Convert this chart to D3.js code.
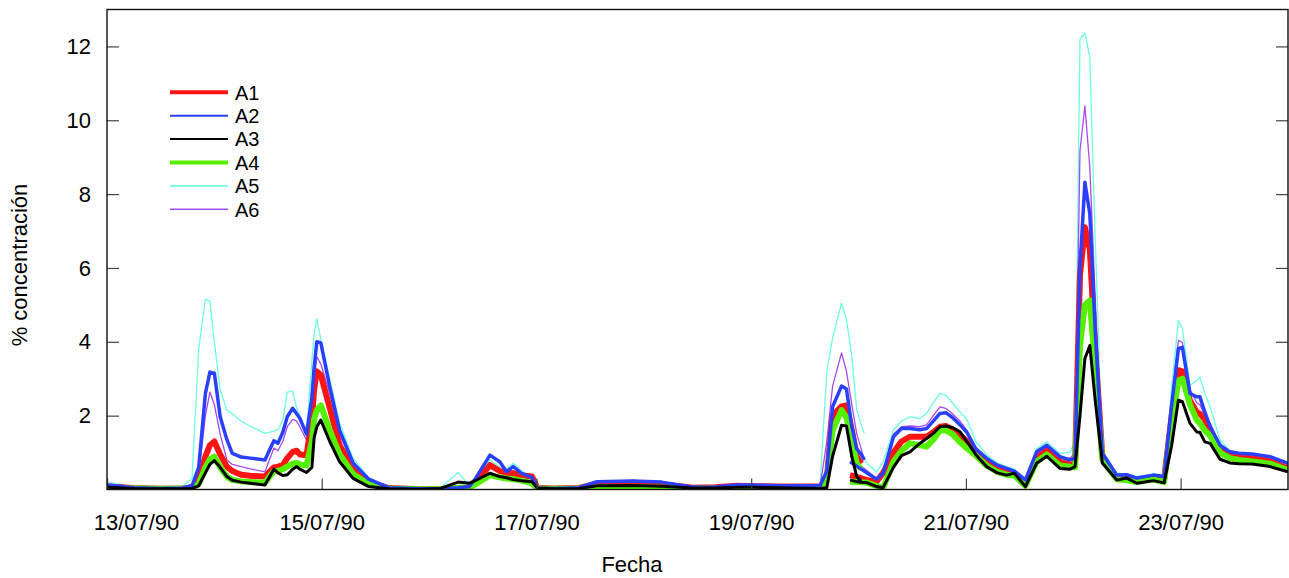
<!DOCTYPE html>
<html>
<head>
<meta charset="utf-8">
<script src="https://cdn.jsdelivr.net/npm/d3@7"></script>
<style>
  body { margin: 0; background: #fff; }
  text { font-family: Arial, "Liberation Sans", sans-serif; fill: #000; }
</style>
</head>
<body>
<svg id="chart" width="1289" height="578"></svg>
<script>
// horas desde 13/07/90 00:00 (null = corte entre tramos)
var horas = [0, 6, 12, 17, 19, 20.5, 22, 23, 24, 25.3, 26.8, 28, 30, 32, 35.3, 37.3, 38.2, 39.3, 40.3, 41.5,
  42.4, 43.1, 44.6, 45.8, 46.3, 46.9, 47.8, 49.8, 52, 55, 58.5, 63, 70, 74.5, 78.5, 81, 82.5, 85.6, 87.8, 89.3,
  90.8, 92.7, 95, 96.2, 100, 105.5, 109.5, 117.5, 124, 131, 136, 140.8, 144.4, 150, 159.4, 160.9, 162.2, 164.2, 165.3, 166.5,
  167.6, 168.6, 169.3, null,
  166.1, 168, 170, 172, 173.5, 175.8, 177.6, 179.5, 181.7, 183.2, 184.7, 186.2, 187.5, 189, 190.7, 192.2, 194.2, 196.6, 199, 201.1,
  202.8, 205.3, 207.8, 210.1, 213, 215.3, 216.4, 217.5, 218.6, 219.7, 220.9, 222.5, 225.7, 228, 230.2, 233.9, 236.3, 238, 239.5, 240.4,
  242.1, 243.6, 244.3, 245.4, 246.6, 248.8, 251, 253, 256, 260, 264];

var A1 = [0.08, 0.04, 0.02, 0.03, 0.05, 0.25, 0.9, 1.2, 1.3, 0.95, 0.62, 0.5, 0.4, 0.37, 0.35, 0.6, 0.62, 0.66, 0.85, 1.02,
  1.05, 0.95, 0.93, 1.9, 2.7, 3.2, 3.1, 2.2, 1.2, 0.55, 0.2, 0.04, 0.01, 0.01, 0.03, 0.05, 0.2, 0.66, 0.5, 0.45,
  0.44, 0.38, 0.35, 0.04, 0.03, 0.04, 0.15, 0.18, 0.14, 0.05, 0.06, 0.1, 0.09, 0.08, 0.08, 0.3, 2.0, 2.25, 2.28, 1.6,
  0.89, 0.7, null, null,
  0.39, 0.33, 0.25, 0.21, 0.45, 1.0, 1.3, 1.43, 1.43, 1.43, 1.55, 1.7, 1.72, 1.62, 1.48, 1.3, 0.98, 0.72, 0.55, 0.45,
  0.45, 0.15, 0.85, 1.05, 0.75, 0.68, 0.7, 5.8, 7.1, 6.5, 3.8, 0.9, 0.32, 0.3, 0.25, 0.32, 0.28, 2.0, 3.23, 3.2,
  2.4, 2.1, 2.05, 1.9, 1.6, 1.1, 0.92, 0.87, 0.84, 0.76, 0.57];

var A2 = [0.12, 0.05, 0.03, 0.04, 0.1, 0.6, 2.6, 3.18, 3.15, 1.97, 1.35, 0.98, 0.88, 0.85, 0.8, 1.32, 1.25, 1.55, 1.97, 2.2,
  2.05, 1.93, 1.5, 2.5, 3.3, 4.0, 3.97, 2.78, 1.6, 0.72, 0.28, 0.05, 0.02, 0.02, 0.05, 0.08, 0.32, 0.93, 0.75, 0.48,
  0.62, 0.44, 0.32, 0.04, 0.03, 0.05, 0.21, 0.23, 0.2, 0.06, 0.07, 0.12, 0.12, 0.1, 0.1, 0.5, 2.24, 2.8, 2.72, 1.7,
  1.1, 0.95, 0.8, null,
  0.75, 0.6, 0.44, 0.28, 0.44, 1.43, 1.65, 1.65, 1.62, 1.65, 1.85, 2.06, 2.08, 1.95, 1.75, 1.55, 1.1, 0.85, 0.66, 0.57,
  0.5, 0.26, 1.02, 1.2, 0.89, 0.8, 0.85, 6.02, 8.32, 7.46, 4.3, 0.98, 0.39, 0.4, 0.31, 0.39, 0.35, 2.3, 3.82, 3.85,
  2.6, 2.51, 2.51, 2.1, 1.7, 1.2, 1.02, 0.98, 0.96, 0.89, 0.71];

var A3 = [0.06, 0.03, 0.02, 0.02, 0.03, 0.1, 0.45, 0.68, 0.78, 0.6, 0.35, 0.25, 0.2, 0.17, 0.12, 0.55, 0.45, 0.38, 0.4, 0.55,
  0.62, 0.55, 0.46, 0.6, 1.4, 1.7, 1.88, 1.3, 0.75, 0.3, 0.08, 0.02, 0.01, 0.03, 0.2, 0.17, 0.25, 0.44, 0.35, 0.32,
  0.27, 0.24, 0.21, 0.04, 0.02, 0.03, 0.1, 0.11, 0.09, 0.04, 0.04, 0.06, 0.06, 0.05, 0.03, 0.05, 0.9, 1.74, 1.72, 0.89,
  0.35, 0.22, null, null,
  0.26, 0.2, 0.18, 0.08, 0.05, 0.6, 0.92, 1.02, 1.25, 1.38, 1.52, 1.7, 1.72, 1.68, 1.56, 1.3, 0.95, 0.62, 0.45, 0.39,
  0.44, 0.08, 0.71, 0.9, 0.57, 0.55, 0.62, 2.0, 3.55, 3.9, 2.42, 0.72, 0.26, 0.31, 0.17, 0.24, 0.18, 1.2, 2.42, 2.38,
  1.79, 1.56, 1.55, 1.29, 1.25, 0.82, 0.72, 0.7, 0.69, 0.62, 0.48];

var A4 = [0.05, 0.03, 0.02, 0.02, 0.03, 0.15, 0.6, 0.82, 0.89, 0.6, 0.35, 0.26, 0.22, 0.2, 0.18, 0.5, 0.5, 0.55, 0.62, 0.7,
  0.72, 0.68, 0.65, 1.3, 1.9, 2.15, 2.28, 1.6, 0.95, 0.42, 0.15, 0.03, 0.01, 0.01, 0.05, 0.06, 0.15, 0.39, 0.33, 0.3,
  0.28, 0.24, 0.17, 0.02, 0.02, 0.02, 0.06, 0.07, 0.05, 0.02, 0.03, 0.05, 0.04, 0.03, 0.04, 0.25, 1.6, 2.15, 1.95, 1.3,
  0.7, 0.55, null, null,
  0.21, 0.2, 0.18, 0.1, 0.04, 0.75, 1.05, 1.25, 1.2, 1.16, 1.35, 1.6, 1.6, 1.5, 1.28, 1.12, 0.92, 0.65, 0.48, 0.4,
  0.38, 0.1, 0.75, 0.95, 0.65, 0.62, 0.6, 3.9, 5.0, 5.12, 3.3, 0.8, 0.28, 0.25, 0.2, 0.27, 0.2, 1.8, 2.95, 3.0,
  2.3, 1.88, 1.8, 1.6, 1.45, 1.0, 0.85, 0.8, 0.76, 0.7, 0.52];

var A5 = [0.2, 0.08, 0.04, 0.1, 0.3, 3.8, 5.15, 5.1, 4.0, 2.7, 2.15, 2.05, 1.85, 1.72, 1.52, 1.58, 1.62, 1.88, 2.64, 2.67,
  2.2, 2.0, 1.53, 3.5, 4.2, 4.63, 4.05, 3.0, 1.8, 0.85, 0.32, 0.06, 0.02, 0.05, 0.46, 0.1, 0.3, 0.8, 0.6, 0.55,
  0.71, 0.5, 0.35, 0.05, 0.03, 0.05, 0.2, 0.24, 0.18, 0.06, 0.07, 0.12, 0.11, 0.1, 0.12, 3.2, 4.1, 5.05, 4.6, 3.6,
  2.15, 1.75, 1.52, null,
  1.3, 1.0, 0.7, 0.48, 0.75, 1.61, 1.85, 1.97, 1.92, 2.06, 2.35, 2.6, 2.55, 2.35, 2.1, 1.9, 1.3, 0.95, 0.72, 0.62,
  0.55, 0.3, 1.1, 1.29, 0.98, 1.02, 1.3, 12.19, 12.37, 11.7, 6.8, 1.05, 0.45, 0.4, 0.35, 0.42, 0.38, 2.8, 4.58, 4.36,
  2.82, 2.95, 3.05, 2.6, 2.24, 1.34, 1.05, 0.98, 0.95, 0.88, 0.7];

var A6 = [0.1, 0.05, 0.03, 0.04, 0.15, 0.4, 2.0, 2.64, 2.3, 1.5, 0.8, 0.68, 0.62, 0.56, 0.48, 1.12, 1.05, 1.3, 1.7, 1.9,
  1.85, 1.7, 1.34, 2.2, 2.9, 3.59, 3.4, 2.6, 1.5, 0.68, 0.25, 0.05, 0.01, 0.02, 0.05, 0.05, 0.2, 0.72, 0.55, 0.45,
  0.5, 0.4, 0.3, 0.04, 0.03, 0.04, 0.18, 0.2, 0.15, 0.05, 0.06, 0.1, 0.1, 0.08, 0.08, 1.3, 2.8, 3.7, 3.2, 2.3,
  1.5, 1.1, 0.8, null,
  0.9, 0.7, 0.5, 0.3, 0.45, 1.5, 1.7, 1.72, 1.7, 1.75, 2.0, 2.24, 2.2, 2.05, 1.85, 1.6, 1.15, 0.85, 0.65, 0.55,
  0.48, 0.25, 0.95, 1.15, 0.85, 0.85, 1.0, 9.18, 10.39, 8.72, 5.2, 0.95, 0.38, 0.35, 0.3, 0.37, 0.33, 2.4, 4.04, 3.98,
  2.7, 2.35, 2.3, 2.0, 1.8, 1.2, 1.0, 0.95, 0.92, 0.85, 0.68];

var nombres = ["A1", "A2", "A3", "A4", "A5", "A6"];
var colores = ["#ff1414", "#2b40ff", "#000000", "#55f000", "#6cffe0", "#a64af2"];
var anchoLinea = [6, 3.5, 3, 6, 1.3, 1.3];
var anchoLeyenda = [4, 2, 2, 4, 1.6, 1.6];
var ordenDibujo = [4, 5, 0, 3, 1, 2];
var diasTick = [13, 15, 17, 19, 21, 23];
var ticksY = [2, 4, 6, 8, 10, 12];

var series = [A1, A2, A3, A4, A5, A6];
var inicio = new Date(1990, 6, 13);

var svg = d3.select("#chart");
var margin = {left: 107, right: 1, top: 9.5, bottom: 88.5};
var W = 1289, H = 578;

var x = d3.scaleTime()
    .domain([inicio, new Date(1990, 6, 24)])
    .range([margin.left, W - margin.right]);
var y = d3.scaleLinear()
    .domain([0, 13])
    .range([H - margin.bottom, margin.top]);

svg.append("defs").append("clipPath").attr("id", "clip")
    .append("rect")
    .attr("x", margin.left).attr("y", margin.top)
    .attr("width", W - margin.right - margin.left)
    .attr("height", H - margin.bottom - margin.top);

// lineas
var linea = d3.line()
    .defined(function(d) { return d.t != null && d.v != null; })
    .x(function(d) { return x(d.t); })
    .y(function(d) { return y(d.v); });

var gLineas = svg.append("g").attr("clip-path", "url(#clip)");
ordenDibujo.forEach(function(k) {
    var datos = horas.map(function(h, i) {
        return {t: h == null ? null : d3.timeMinute.offset(inicio, Math.round(h * 60)), v: series[k][i]};
    });
    gLineas.append("path")
        .datum(datos)
        .attr("fill", "none")
        .attr("stroke", colores[k])
        .attr("stroke-width", anchoLinea[k])
        .attr("stroke-linejoin", "round")
        .attr("d", linea);
});

// ejes
var tickFechas = diasTick.map(function(d) { return new Date(1990, 6, d); });

var ejeX = svg.append("g")
    .attr("transform", "translate(0," + (H - margin.bottom) + ")")
    .call(d3.axisBottom(x).tickValues(tickFechas).tickFormat(d3.timeFormat("%d/%m/%y"))
        .tickSize(-11).tickPadding(25));
ejeX.selectAll("text").style("font-size", "22px")
    .attr("dx", function(d, i) { return i === 0 ? 29 : 0; });

var ejeY = svg.append("g")
    .attr("transform", "translate(" + margin.left + ",0)")
    .call(d3.axisLeft(y).tickValues(ticksY).tickSize(-12).tickPadding(16));
ejeY.selectAll("text").style("font-size", "22px");

var ejeY2 = svg.append("g")
    .attr("transform", "translate(" + (W - margin.right) + ",0)")
    .call(d3.axisRight(y).tickValues(ticksY).tickSize(-12).tickFormat(""));

svg.selectAll(".domain").remove();
svg.selectAll(".tick line").attr("stroke", "#444").attr("stroke-width", 1.2);

svg.append("rect")
    .attr("x", margin.left).attr("y", margin.top)
    .attr("width", W - margin.right - margin.left)
    .attr("height", H - margin.bottom - margin.top)
    .attr("fill", "none")
    .attr("stroke", "#111")
    .attr("stroke-width", 1.4);

// titulos
svg.append("text")
    .attr("x", 632).attr("y", 572)
    .attr("text-anchor", "middle")
    .style("font-size", "22px")
    .text("Fecha");

svg.append("text")
    .attr("transform", "translate(27,265) rotate(-90)")
    .attr("text-anchor", "middle")
    .style("font-size", "22px")
    .text("% concentración");

// leyenda
var leyenda = svg.append("g");
nombres.forEach(function(n, i) {
    var yy = 92.3 + i * 23.4;
    leyenda.append("line")
        .attr("x1", 170).attr("x2", 228)
        .attr("y1", yy).attr("y2", yy)
        .attr("stroke", colores[i])
        .attr("stroke-width", anchoLeyenda[i]);
    leyenda.append("text")
        .attr("x", 235).attr("y", yy)
        .attr("dy", "0.36em")
        .style("font-size", "20px")
        .text(n);
});
</script>
</body>
</html>
